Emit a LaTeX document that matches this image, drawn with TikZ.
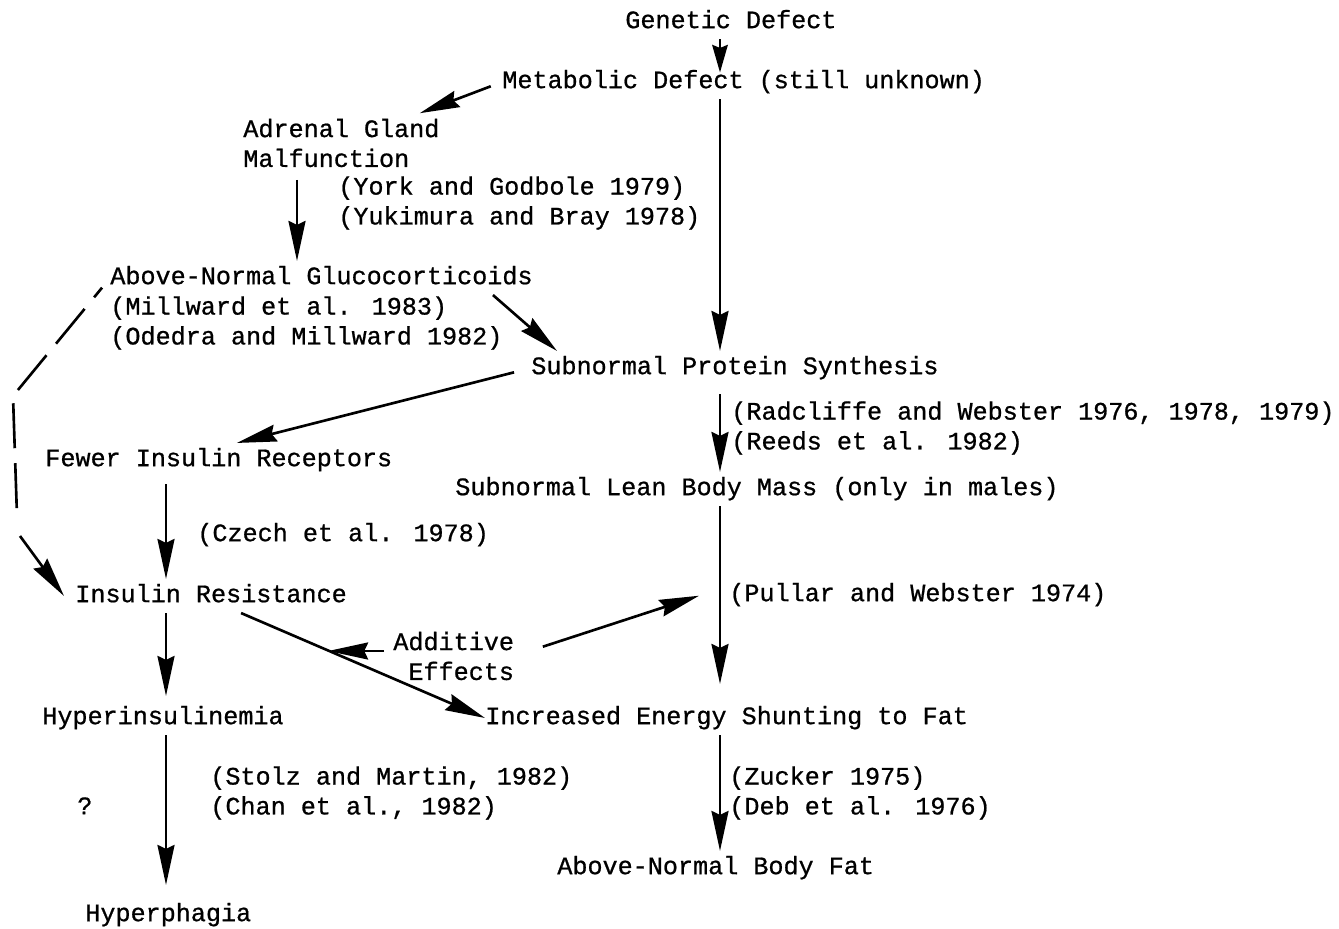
\documentclass[tikz,border=0pt]{standalone}
\usepackage{fontspec}
\setmainfont[FakeBold=0.8]{Liberation Mono}
\usetikzlibrary{arrows.meta,calc}

\tikzset{
  lbl/.style={font=\fontsize{14.3}{17}\selectfont, inner xsep=0pt, inner ysep=3pt, anchor=west},
  box/.style={lbl, text height=10pt, text depth=3pt},
  cite/.style={lbl, align=left},
  arr/.style={-{Stealth[length=8mm,width=3.4mm,inset=0.8mm]}, line width=1.5pt},
  shortarr/.style={-{Stealth[length=5.5mm,width=3.1mm,inset=0.6mm]}, line width=1.5pt},
  dashline/.style={line width=1.5pt, dash pattern=on 9mm off 3mm, dash phase=6.5mm},
}

\begin{document}
\begin{tikzpicture}[x=0.2mm, y=-0.2mm]
    \useasboundingbox (0,0) rectangle (1339,929);
    % spines for the vertical arrows
    \coordinate (rspine) at (720,0);
    \coordinate (mspine) at (297,0);
    \coordinate (lspine) at (166,0);

    % right column
    \node[box] (gen) at (625,22) {Genetic Defect};
    \node[box] (meta) at (502,82) {Metabolic Defect (still unknown)};
    \node[box] (protein) at (531,368) {Subnormal Protein Synthesis};
    \node[cite] (radref) at (731,428) {(Radcliffe and Webster 1976, 1978, 1979)\\(Reeds et al. 1982)};
    \node[box] (lean) at (455,489) {Subnormal Lean Body Mass (only in males)};
    \node[box] (pullref) at (729,595) {(Pullar and Webster 1974)};
    \node[box] (energy) at (485,718) {Increased Energy Shunting to Fat};
    \node[cite] (zuckref) at (729,793) {(Zucker 1975)\\(Deb et al. 1976)};
    \node[box] (bodyfat) at (557,868) {Above-Normal Body Fat};

    % left column
    \node[cite] (adrenal) at (243,143) {Adrenal Gland\\Malfunction};
    \node[cite] (yorkref) at (338,203) {(York and Godbole 1979)\\(Yukimura and Bray 1978)};
    \node[box] (gluco) at (110,278) {Above-Normal Glucocorticoids};
    \node[cite] (milref) at (110,323) {(Millward et al. 1983)\\(Odedra and Millward 1982)};
    \node[box] (fewer) at (45,460) {Fewer Insulin Receptors};
    \node[box] (czechref) at (197,535) {(Czech et al. 1978)};
    \node[box] (insres) at (75,596) {Insulin Resistance};
    \node[cite, align=right] (additive) at (393,656) {Additive\\Effects};
    \node[box] (hyperins) at (42,718) {Hyperinsulinemia};
    \node[cite] (stolzref) at (210,793) {(Stolz and Martin, 1982)\\(Chan et al., 1982)};
    \node[box] (question) at (77,808) {?};
    \node[box] (hyperph) at (85,915) {Hyperphagia};

    % vertical arrows
    \draw[shortarr, shorten >=-1.5mm] (gen.south -| rspine) -- (meta.north -| rspine);
    \draw[arr] (meta.south -| rspine) -- (protein.north -| rspine);
    \draw[arr, shorten <=1.8mm] (protein.south -| rspine) -- (lean.north -| rspine);
    \draw[arr, shorten >=3.4mm] (lean.south -| rspine) -- (energy.north -| rspine);
    \draw[arr] (energy.south -| rspine) -- (bodyfat.north -| rspine);
    \draw[arr, shorten <=1.4mm] (adrenal.south -| mspine) -- (gluco.north -| mspine);
    \draw[arr, shorten <=1.4mm] (fewer.south -| lspine) -- (insres.north -| lspine);
    \draw[arr, shorten >=1mm] (insres.south -| lspine) -- (hyperins.north -| lspine);
    \draw[arr, shorten >=2.6mm] (hyperins.south -| lspine) -- (hyperph.north -| lspine);

    % slanted arrows
    \draw[arr, shorten <=2.4mm] (meta.west) -- ([xshift=-4mm]adrenal.north east);
    \draw[arr] ([xshift=-8mm]gluco.south east) -- ([xshift=5.2mm]protein.north west);
    \draw[arr, shorten <=3.5mm] (protein.west) -- ([xshift=3.6mm]fewer.north);
    \draw[arr] ([xshift=6mm]insres.south) -- (energy.west);

    % additive effects
    \path ([xshift=6mm]insres.south) -- (energy.west) coordinate[pos=0.357] (meet);
    \path (lean.south -| rspine) -- (energy.north -| rspine) coordinate[pos=0.425] (leanmid);
    \draw[arr, shorten <=1.8mm] ([yshift=1mm]additive.west) -- ([yshift=1mm]additive.west -| meet);
    \draw[arr, shorten <=6mm, shorten >=4.4mm] (additive.east) -- (leanmid);

    % dashed link glucocorticoids -> insulin resistance
    \coordinate (bend1) at (13,396);
    \coordinate (bend2) at (17,516);
    \coordinate (bend3) at (20,536);
    \draw[dashline, shorten <=2.5mm] (gluco.west) -- (bend1) -- (bend2);
    \draw[arr] (bend3) -- ([xshift=-2.2mm]insres.west);
\end{tikzpicture}
\end{document}
